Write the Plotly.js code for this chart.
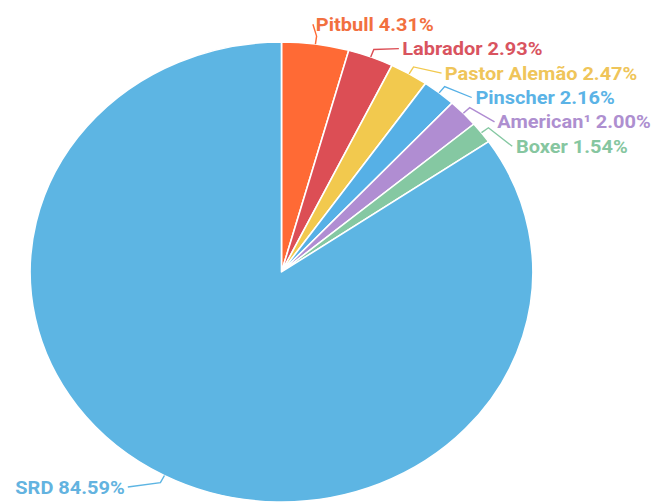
<!DOCTYPE html>
<html><head><meta charset="utf-8">
<script src="https://cdn.plot.ly/plotly-3.0.1.min.js"></script>
<style>
html,body{margin:0;padding:0;background:#fff;overflow:hidden}
#wrap{width:659px;height:504px;overflow:hidden;position:relative}
#chart{position:absolute;left:0;top:0;transform-origin:0 0}
</style></head><body>
<div id="wrap"><div id="chart"></div></div>
<script>
// ---- data ----
const breeds = ['Pitbull', 'Labrador', 'Pastor Alemão', 'Pinscher', 'American¹', 'Boxer', 'SRD'];
const shares = [4.31, 2.93, 2.47, 2.16, 2.00, 1.54, 84.59];
const sliceColors = ['#FF6A35', '#DC4E55', '#F2C94E', '#56B0E6', '#B08DD2', '#85C8A2', '#5DB5E3'];
const textColors  = ['#F2703F', '#D9545F', '#EFC55A', '#5BB3E6', '#AE8FD0', '#86C6A0', '#63B3E0'];

// ---- geometry (unstretched px) ----
const FULL_W = 659, H = 504, SX = 1.093;
const W = FULL_W / SX;
const CX = 257.5, CY = 272, R = 230;
const LABEL_OFF = 20, ELBOW_OFF = 8, SPACING = 24.4, MAX_Y = 487;
const GAP_R = -4, GAP_L = 14;
const FONT_SIZE = 18.3;

const px2x = x => x / W;
const px2y = y => 1 - y / H;

const total = shares.reduce((a, b) => a + b, 0);
let cum = 0;
const items = shares.map((v, i) => {
  const mid = (cum + v / 2) / total * 2 * Math.PI;
  cum += v;
  return {i, th: mid, s: Math.sin(mid), c: Math.cos(mid)};
});

const right = items.filter(d => d.s >= 0);
const left = items.filter(d => d.s < 0);

right.forEach(d => { d.y = CY - (R + LABEL_OFF) * d.c; });
right.sort((a, b) => a.y - b.y);
for (let k = 1; k < right.length; k++) {
  if (right[k].y < right[k - 1].y + SPACING) right[k].y = right[k - 1].y + SPACING;
}
left.forEach(d => { d.y = Math.min(CY - (R + LABEL_OFF) * d.c, MAX_Y); });

const annotations = [];
const shapes = [];
function place(d, side) {
  const RR = R + LABEL_OFF;
  const dy = d.y - CY;
  const dx = Math.sqrt(Math.max(RR * RR - dy * dy, 0));
  const lx = CX + side * dx;
  const tx = side > 0 ? lx + GAP_R : lx - GAP_L;
  const ex = CX + R * d.s, ey = CY - R * d.c;
  const bx = CX + (R + ELBOW_OFF) * d.s, by = CY - (R + ELBOW_OFF) * d.c;
  const endx = side > 0 ? tx - 1 : tx + 1;
  const path = `M ${px2x(ex)} ${px2y(ey)} L ${px2x(bx)} ${px2y(by)} L ${px2x(endx)} ${px2y(d.y)}`;
  shapes.push({type: 'path', xref: 'paper', yref: 'paper', path,
    line: {color: sliceColors[d.i], width: 1.3}});
  annotations.push({
    xref: 'paper', yref: 'paper', x: px2x(tx), y: px2y(d.y),
    xanchor: side > 0 ? 'left' : 'right', yanchor: 'middle',
    text: breeds[d.i] + ' ' + shares[d.i].toFixed(2) + '%',
    showarrow: false,
    font: {family: 'Roboto, sans-serif', size: FONT_SIZE, color: textColors[d.i], weight: 700}
  });
}
right.forEach(d => place(d, 1));
left.forEach(d => place(d, -1));

const trace = {
  type: 'pie',
  labels: breeds,
  values: shares,
  sort: false,
  direction: 'clockwise',
  rotation: 0,
  textinfo: 'none',
  hoverinfo: 'none',
  marker: {colors: sliceColors, line: {color: '#ffffff', width: 1.5}},
  domain: {x: [px2x(CX - R), px2x(CX + R)], y: [px2y(CY + R), px2y(CY - R)]}
};

const layout = {
  width: W, height: H,
  margin: {l: 0, r: 0, t: 0, b: 0},
  paper_bgcolor: '#ffffff',
  showlegend: false,
  annotations, shapes
};

const el = document.getElementById('chart');
el.style.transform = `scaleX(${SX})`;
Plotly.newPlot(el, [trace], layout, {staticPlot: true, displayModeBar: false});
</script>
</body></html>
